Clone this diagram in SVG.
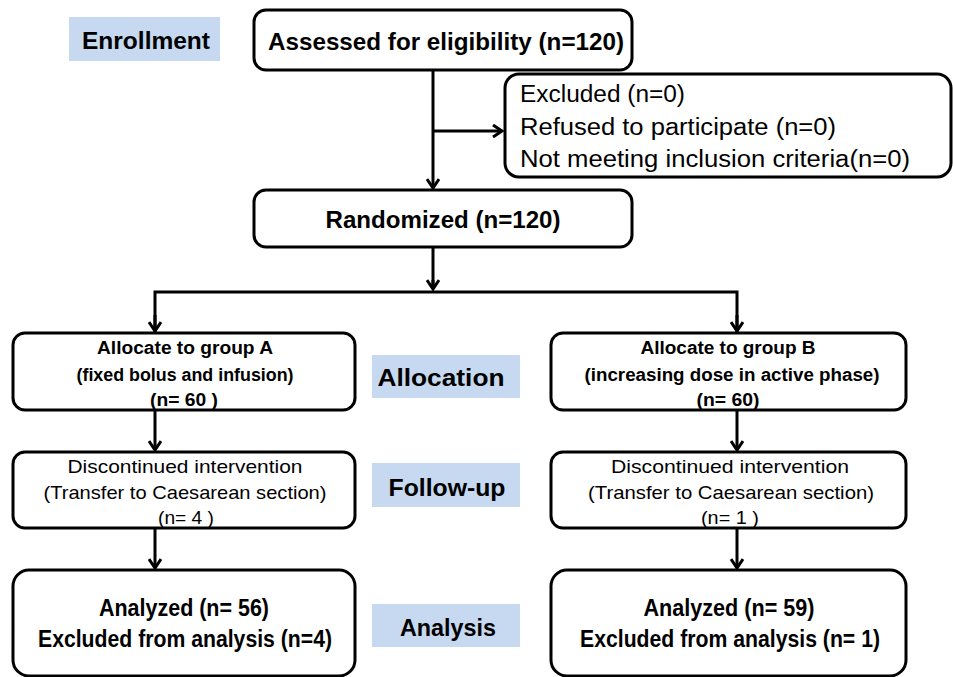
<svg xmlns="http://www.w3.org/2000/svg" width="953" height="677" viewBox="0 0 953 677">
<style>
.box{fill:#fff;stroke:#000;stroke-width:3}
.lbl{fill:#c6d9f0}
.t{font-family:"Liberation Sans",Arial,sans-serif;fill:#000;text-anchor:middle}
.b{font-weight:bold}
.l{text-anchor:start}
.c{fill:none;stroke:#000;stroke-width:3}
</style>
<defs>
<marker id="ar" markerWidth="14" markerHeight="14" refX="11" refY="7" orient="auto" markerUnits="userSpaceOnUse">
<path d="M2,1 L11,7 L2,13" fill="none" stroke="#000" stroke-width="3"/>
</marker>
</defs>
<rect width="953" height="677" fill="#fff"/>
<g id="connectors">
<path class="c" d="M433,70 V188" marker-end="url(#ar)"/>
<path class="c" d="M433,131 H502" marker-end="url(#ar)"/>
<path class="c" d="M433,247 V289"/>
<path class="c" d="M433,280 V289" marker-end="url(#ar)"/>
<path class="c" d="M155,333 V292 H737 V333"/>
<path class="c" d="M155,315 V331" marker-end="url(#ar)"/>
<path class="c" d="M737,315 V331" marker-end="url(#ar)"/>
<path class="c" d="M155,410 V450" marker-end="url(#ar)"/>
<path class="c" d="M737,410 V450" marker-end="url(#ar)"/>
<path class="c" d="M155,528 V568" marker-end="url(#ar)"/>
<path class="c" d="M737,528 V568" marker-end="url(#ar)"/>
</g>
<g id="enrollment">
<rect class="lbl" x="69" y="17" width="151" height="44"/>
<text class="t b" x="146" y="49" font-size="24" textLength="128" lengthAdjust="spacingAndGlyphs">Enrollment</text>
</g>
<g id="assessed">
<rect class="box" x="254" y="10" width="378" height="60" rx="12"/>
<text class="t b" x="446" y="50" font-size="24" textLength="356" lengthAdjust="spacingAndGlyphs">Assessed for eligibility (n=120)</text>
</g>
<g id="excluded">
<rect class="box" x="505" y="74" width="446" height="103" rx="14"/>
<text class="t l" x="520" y="102" font-size="23" textLength="165" lengthAdjust="spacingAndGlyphs">Excluded (n=0)</text>
<text class="t l" x="520" y="135" font-size="23" textLength="316" lengthAdjust="spacingAndGlyphs">Refused to participate (n=0)</text>
<text class="t l" x="520" y="167" font-size="23" textLength="390" lengthAdjust="spacingAndGlyphs">Not meeting inclusion criteria(n=0)</text>
</g>
<g id="randomized">
<rect class="box" x="254" y="190" width="378" height="57" rx="12"/>
<text class="t b" x="443" y="228" font-size="24" textLength="235" lengthAdjust="spacingAndGlyphs">Randomized (n=120)</text>
</g>
<g id="groupA">
<rect class="box" x="13" y="333" width="342" height="77" rx="12"/>
<text class="t b" x="185" y="354" font-size="18" textLength="176" lengthAdjust="spacingAndGlyphs">Allocate to group  A</text>
<text class="t b" x="185" y="381" font-size="18" textLength="217" lengthAdjust="spacingAndGlyphs">(fixed bolus and infusion)</text>
<text class="t b" x="184" y="406" font-size="18" textLength="68" lengthAdjust="spacingAndGlyphs">(n= 60 )</text>
</g>
<g id="allocation">
<rect class="lbl" x="372" y="355" width="148" height="43"/>
<text class="t b" x="441" y="386" font-size="24" textLength="127" lengthAdjust="spacingAndGlyphs">Allocation</text>
</g>
<g id="groupB">
<rect class="box" x="551" y="333" width="355" height="77" rx="12"/>
<text class="t b" x="728" y="354" font-size="18" textLength="175" lengthAdjust="spacingAndGlyphs">Allocate to group  B</text>
<text class="t b" x="732" y="381" font-size="18" textLength="295" lengthAdjust="spacingAndGlyphs">(increasing dose in active phase)</text>
<text class="t b" x="728" y="406" font-size="18" textLength="63" lengthAdjust="spacingAndGlyphs">(n= 60)</text>
</g>
<g id="discA">
<rect class="box" x="13" y="452" width="342" height="76" rx="12"/>
<text class="t" x="185" y="473" font-size="19" textLength="235" lengthAdjust="spacingAndGlyphs">Discontinued  intervention</text>
<text class="t" x="185" y="499" font-size="19" textLength="283" lengthAdjust="spacingAndGlyphs">(Transfer to Caesarean section)</text>
<text class="t" x="186" y="524" font-size="19" textLength="56" lengthAdjust="spacingAndGlyphs">(n= 4 )</text>
</g>
<g id="followup">
<rect class="lbl" x="372" y="463" width="148" height="44"/>
<text class="t b" x="447" y="496" font-size="24" textLength="117" lengthAdjust="spacingAndGlyphs">Follow-up</text>
</g>
<g id="discB">
<rect class="box" x="551" y="452" width="355" height="76" rx="12"/>
<text class="t" x="730" y="473" font-size="19" textLength="238" lengthAdjust="spacingAndGlyphs">Discontinued  intervention</text>
<text class="t" x="731" y="499" font-size="19" textLength="286" lengthAdjust="spacingAndGlyphs">(Transfer to Caesarean section)</text>
<text class="t" x="730" y="524" font-size="19" textLength="58" lengthAdjust="spacingAndGlyphs">(n= 1 )</text>
</g>
<g id="analyzedA">
<rect class="box" x="13" y="570" width="342" height="106" rx="16"/>
<text class="t b" x="184" y="616" font-size="23" textLength="170" lengthAdjust="spacingAndGlyphs">Analyzed (n= 56)</text>
<text class="t b" x="185" y="647" font-size="23" textLength="294" lengthAdjust="spacingAndGlyphs">Excluded from analysis (n=4)</text>
</g>
<g id="analysis">
<rect class="lbl" x="372" y="604" width="148" height="43"/>
<text class="t b" x="448" y="636" font-size="24" textLength="96" lengthAdjust="spacingAndGlyphs">Analysis</text>
</g>
<g id="analyzedB">
<rect class="box" x="551" y="570" width="355" height="106" rx="16"/>
<text class="t b" x="729" y="616" font-size="23" textLength="171" lengthAdjust="spacingAndGlyphs">Analyzed (n= 59)</text>
<text class="t b" x="730" y="647" font-size="23" textLength="300" lengthAdjust="spacingAndGlyphs">Excluded from analysis (n= 1)</text>
</g>
</svg>
